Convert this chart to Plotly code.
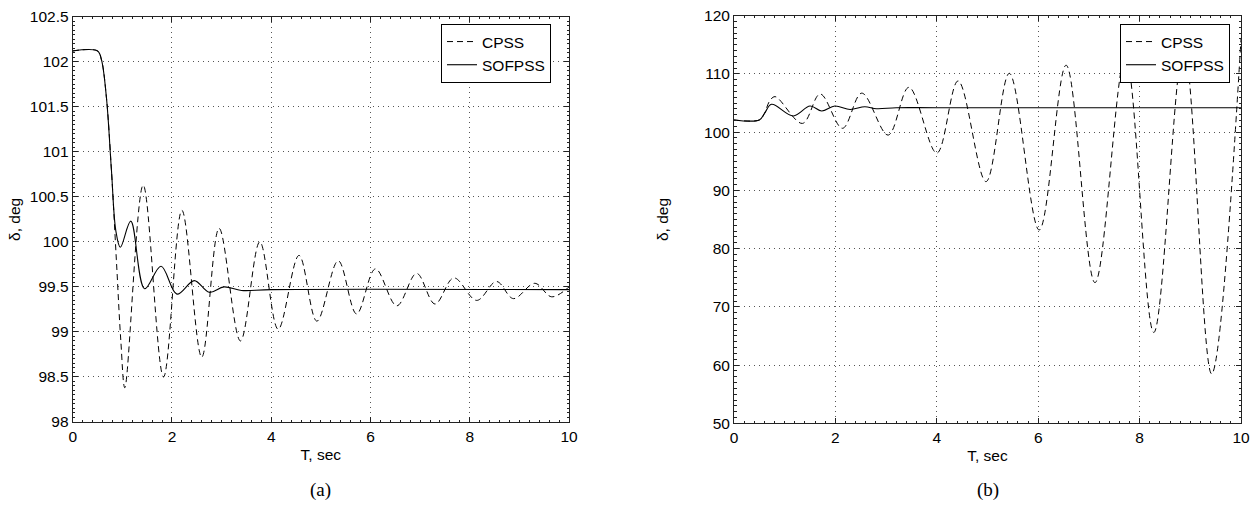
import plotly.graph_objects as go

# ---------------- data ----------------
# (a) left panel
t_a_cpss = [0, 0.5, 0.58, 0.68, 0.78, 0.88, 0.97, 1.05, 1.42, 1.83, 2.2, 2.6, 2.95, 3.38, 3.77,
            4.14, 4.56, 4.92, 5.35, 5.72, 6.1, 6.53, 6.93, 7.3, 7.68, 8.14, 8.54, 8.88, 9.31, 9.65, 10.0]
v_a_cpss = [102.12, 102.12, 102.02, 101.6, 100.8, 99.8, 98.9, 98.38, 100.63, 98.5, 100.35, 98.72, 100.15, 98.9, 100.0,
            99.03, 99.85, 99.12, 99.79, 99.2, 99.7, 99.29, 99.65, 99.31, 99.6, 99.35, 99.56, 99.37, 99.54, 99.39, 99.5]

t_a_sof = [0, 0.5, 0.58, 0.68, 0.78, 0.87, 0.96, 1.17, 1.45, 1.78, 2.1, 2.45, 2.75, 3.05, 3.4, 4.0, 10.0]
v_a_sof = [102.12, 102.12, 102.02, 101.6, 100.8, 100.12, 99.94, 100.23, 99.48, 99.73, 99.42, 99.57, 99.44, 99.5, 99.46, 99.47, 99.47]

# (b) right panel
t_b_cpss = [0, 0.5, 0.6, 0.7, 0.81, 1.35, 1.7, 2.14, 2.52, 3.04, 3.45, 4.0, 4.42, 4.97, 5.43, 6.02,
            6.55, 7.12, 7.72, 8.28, 8.87, 9.42, 10.0]
v_b_cpss = [102.1, 102.1, 103.2, 105.3, 106.1, 101.5, 106.55, 100.66, 106.7, 99.5, 107.7, 96.4, 108.8, 91.5, 110.1, 83.2,
            111.5, 74.15, 113.0, 65.6, 114.5, 58.5, 116.0]

t_b_sof = [0, 0.5, 0.6, 0.74, 1.17, 1.5, 1.73, 1.99, 2.29, 2.58, 2.81, 3.2, 4.0, 10.0]
v_b_sof = [102.1, 102.1, 103.2, 104.78, 102.78, 104.49, 103.63, 104.49, 103.9, 104.37, 104.03, 104.2, 104.2, 104.2]

x_ticks = [0, 2, 4, 6, 8, 10]
y_a_ticks = [98, 98.5, 99, 99.5, 100, 100.5, 101, 101.5, 102, 102.5]
y_a_labels = ["98", "98.5", "99", "99.5", "100", "100.5", "101", "101.5", "102", "102.5"]
y_b_ticks = [50, 60, 70, 80, 90, 100, 110, 120]

series_names = ["CPSS", "SOFPSS"]
x_title = "T, sec"
y_title = "δ, deg"
panel_labels = ["(a)", "(b)"]

# ---------------- figure ----------------
W, H = 1258, 510
FONT = "Liberation Sans, Arial, sans-serif"
FS = 15.5
fig = go.Figure()

dash_style = "6px,4px"
fig.add_trace(go.Scatter(x=t_a_cpss, y=v_a_cpss, name=series_names[0], mode="lines",
                         line=dict(color="black", width=1, dash=dash_style, shape="spline", smoothing=1),
                         xaxis="x", yaxis="y", legend="legend"))
fig.add_trace(go.Scatter(x=t_a_sof, y=v_a_sof, name=series_names[1], mode="lines",
                         line=dict(color="black", width=1.1, shape="spline", smoothing=1),
                         xaxis="x", yaxis="y", legend="legend"))
fig.add_trace(go.Scatter(x=t_b_cpss, y=v_b_cpss, name=series_names[0], mode="lines",
                         line=dict(color="black", width=1, dash=dash_style, shape="spline", smoothing=1),
                         xaxis="x2", yaxis="y2", legend="legend2"))
fig.add_trace(go.Scatter(x=t_b_sof, y=v_b_sof, name=series_names[1], mode="lines",
                         line=dict(color="black", width=1.1, shape="spline", smoothing=1),
                         xaxis="x2", yaxis="y2", legend="legend2"))

def px_x(p):
    return p / W

def px_y(p):
    return 1 - p / H

axis_common = dict(
    showline=True, linecolor="#222", linewidth=1, mirror="allticks",
    ticks="inside", ticklen=5, tickcolor="#222", tickwidth=1,
    showgrid=True, gridcolor="#555", gridwidth=1, griddash="1px,4px",
    zeroline=False, automargin=False,
    tickfont=dict(family=FONT, size=FS, color="black"),
)

ax_a = (72.7, 569.0)
ay_a = (16.7, 422.0)
ax_b = (734.0, 1241.0)
ay_b = (15.7, 423.3)

fig.update_layout(
    width=W, height=H, margin=dict(l=0, r=0, t=0, b=0),
    paper_bgcolor="white", plot_bgcolor="white", template="none",
    showlegend=True,
    xaxis=dict(domain=[px_x(ax_a[0]), px_x(ax_a[1])], range=[0, 10], tickvals=x_ticks,
               minor=dict(ticks="inside", ticklen=2.5, tickcolor="#222", dtick=0.2, showgrid=False),
               title=dict(text=x_title, font=dict(family=FONT, size=FS, color="black"), standoff=5),
               anchor="y", **axis_common),
    yaxis=dict(domain=[px_y(ay_a[1]), px_y(ay_a[0])], range=[98, 102.5], tickvals=y_a_ticks, ticktext=y_a_labels,
               minor=dict(ticks="inside", ticklen=2.5, tickcolor="#222", dtick=0.05, showgrid=False),
               title=dict(text=y_title, font=dict(family=FONT, size=FS, color="black"), standoff=5),
               anchor="x", **axis_common),
    xaxis2=dict(domain=[px_x(ax_b[0]), px_x(ax_b[1])], range=[0, 10], tickvals=x_ticks,
                minor=dict(ticks="inside", ticklen=2.5, tickcolor="#222", dtick=0.2, showgrid=False),
                title=dict(text=x_title, font=dict(family=FONT, size=FS, color="black"), standoff=5),
                anchor="y2", **axis_common),
    yaxis2=dict(domain=[px_y(ay_b[1]), px_y(ay_b[0])], range=[50, 120], tickvals=y_b_ticks,
                minor=dict(ticks="inside", ticklen=2.5, tickcolor="#222", dtick=1, showgrid=False),
                title=dict(text=y_title, font=dict(family=FONT, size=FS, color="black"), standoff=31),
                anchor="x2", **axis_common),
    legend=dict(x=px_x(551), y=px_y(24), xanchor="right", yanchor="top",
                bgcolor="white", bordercolor="black", borderwidth=1,
                font=dict(family=FONT, size=FS, color="black"), tracegroupgap=0),
    legend2=dict(x=px_x(1230), y=px_y(24), xanchor="right", yanchor="top",
                 bgcolor="white", bordercolor="black", borderwidth=1,
                 font=dict(family=FONT, size=FS, color="black"), tracegroupgap=0),
)

fig.add_annotation(text=panel_labels[0], x=(ax_a[0] + ax_a[1]) / 2 / W, y=px_y(490), xref="paper", yref="paper",
                   xanchor="center", yanchor="middle", showarrow=False,
                   font=dict(family="Liberation Serif, Times New Roman, serif", size=19, color="black"))
fig.add_annotation(text=panel_labels[1], x=(ax_b[0] + ax_b[1]) / 2 / W, y=px_y(490), xref="paper", yref="paper",
                   xanchor="center", yanchor="middle", showarrow=False,
                   font=dict(family="Liberation Serif, Times New Roman, serif", size=19, color="black"))

fig.write_html("out.html")
